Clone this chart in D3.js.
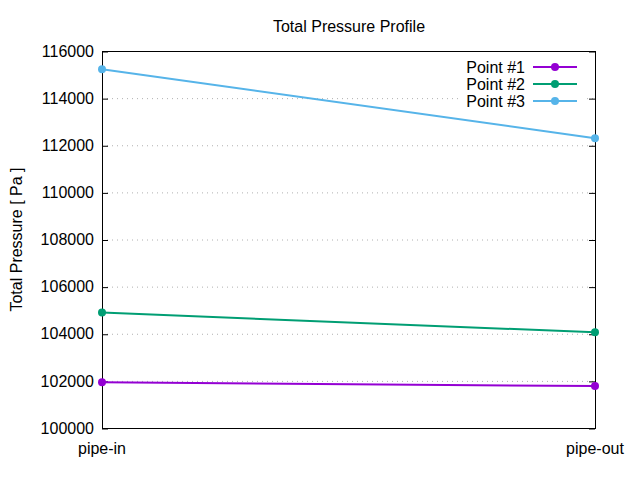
<!DOCTYPE html>
<html lang="en">
<head>
<meta charset="UTF-8">
<title>Total Pressure Profile</title>
<script src="https://cdn.jsdelivr.net/npm/d3@7/dist/d3.min.js"></script>
<style>
    body { margin: 0; background: #fff; }
    text { font-family: "Liberation Sans", Arial, sans-serif; font-size: 16px; fill: #000; }
</style>
</head>
<body>
<div id="chart"></div>
<script>
    // data
    const categories = ["pipe-in", "pipe-out"];
    const seriesNames = ["Point #1", "Point #2", "Point #3"];
    const seriesColors = ["#9400d3", "#009e73", "#56b4e9"];
    const point1 = [101940, 101780];
    const point2 = [104900, 104060];
    const point3 = [115230, 112300];
    const yTicks = [100000, 102000, 104000, 106000, 108000, 110000, 112000, 114000, 116000];

    const series = [point1, point2, point3];

    const W = 640, H = 480;
    const margin = { top: 51, right: 45, bottom: 52, left: 102 };
    const width = W - margin.left - margin.right,
        height = H - margin.top - margin.bottom;

    const svg = d3.select("#chart").append("svg")
        .attr("width", W)
        .attr("height", H);

    const g = svg.append("g")
        .attr("transform", "translate(" + margin.left + "," + margin.top + ")");

    const x = d3.scalePoint().domain(categories).range([0, width]);
    const y = d3.scaleLinear().domain([100000, 116000]).range([height, 0]);

    // dotted grid
    g.append("g")
        .selectAll("line")
        .data(yTicks.slice(1, -1))
        .enter().append("line")
        .attr("x1", 0).attr("x2", width)
        .attr("y1", d => y(d) + 0.5).attr("y2", d => y(d) + 0.5)
        .attr("stroke", "#b0b0b0")
        .attr("stroke-width", 1)
        .attr("stroke-dasharray", "1,4");

    // legend box is opaque, hides the grid behind it
    svg.append("rect")
        .attr("x", 458).attr("y", 57)
        .attr("width", 126).attr("height", 54)
        .attr("fill", "#fff");

    // left axis, ticks inward
    const yAxis = g.append("g")
        .call(d3.axisLeft(y).tickValues(yTicks).tickFormat(d3.format("d")).tickSize(-6).tickPadding(8));
    yAxis.select(".domain").remove();
    yAxis.selectAll("line").attr("transform", "translate(0,0.5)");
    yAxis.selectAll("text").attr("font-size", 16).attr("font-family", "Liberation Sans, Arial, sans-serif").attr("fill", "#000");

    // mirror ticks on right
    const yAxisR = g.append("g")
        .attr("transform", "translate(" + width + ",0)")
        .call(d3.axisRight(y).tickValues(yTicks).tickSize(-6).tickFormat(""));
    yAxisR.select(".domain").remove();
    yAxisR.selectAll("line").attr("transform", "translate(0,0.5)");

    // x labels
    g.append("g")
        .selectAll("text")
        .data(categories)
        .enter().append("text")
        .attr("x", d => x(d))
        .attr("y", height + 26)
        .attr("text-anchor", "middle")
        .text(d => d);

    // border
    g.append("rect")
        .attr("x", 0.5).attr("y", 0.5)
        .attr("width", width).attr("height", height)
        .attr("fill", "none")
        .attr("stroke", "#000")
        .attr("stroke-width", 1);

    // lines + points
    const line = d3.line()
        .x((d, i) => x(categories[i]))
        .y(d => y(d));

    series.forEach((vals, s) => {
        g.append("path")
            .datum(vals)
            .attr("d", line)
            .attr("fill", "none")
            .attr("stroke", seriesColors[s])
            .attr("stroke-width", 2);
        g.append("g")
            .selectAll("circle")
            .data(vals)
            .enter().append("circle")
            .attr("cx", (d, i) => x(categories[i]))
            .attr("cy", d => y(d))
            .attr("r", 4)
            .attr("fill", seriesColors[s]);
    });

    // legend
    const legend = svg.append("g");
    seriesNames.forEach((name, s) => {
        const ly = 67 + s * 17;
        legend.append("text")
            .attr("x", 525)
            .attr("y", ly)
            .attr("dy", "0.35em")
            .attr("text-anchor", "end")
            .text(name);
        legend.append("line")
            .attr("x1", 533).attr("x2", 577)
            .attr("y1", ly).attr("y2", ly)
            .attr("stroke", seriesColors[s])
            .attr("stroke-width", 2);
        legend.append("circle")
            .attr("cx", 555).attr("cy", ly)
            .attr("r", 4)
            .attr("fill", seriesColors[s]);
    });

    // title
    svg.append("text")
        .attr("x", 349)
        .attr("y", 32)
        .attr("text-anchor", "middle")
        .attr("font-size", 15)
        .text("Total Pressure Profile");

    // y label
    svg.append("text")
        .attr("transform", "translate(22," + (margin.top + height / 2) + ") rotate(-90)")
        .attr("text-anchor", "middle")
        .text("Total Pressure [ Pa ]");
</script>
</body>
</html>
